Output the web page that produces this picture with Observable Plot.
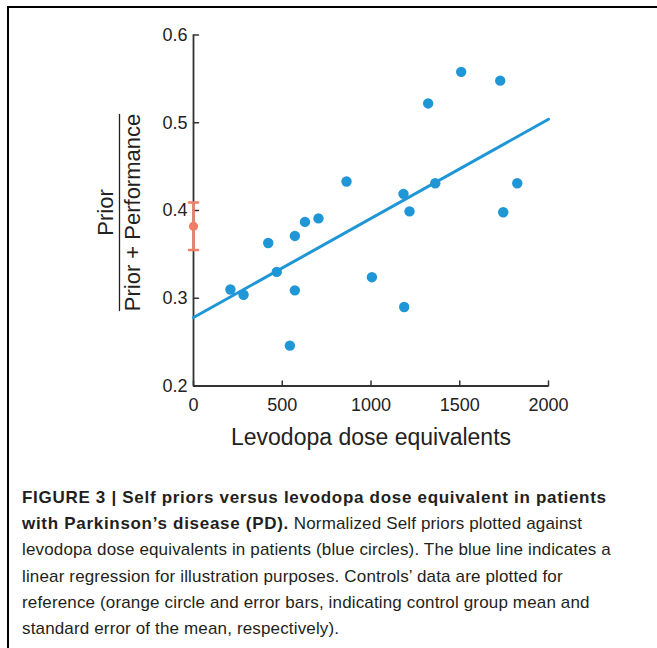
<!DOCTYPE html>
<html><head><meta charset="utf-8">
<script src="https://cdn.jsdelivr.net/npm/d3@7"></script>
<script src="https://cdn.jsdelivr.net/npm/@observablehq/plot@0.6"></script>
<style>
html,body{margin:0;padding:0;background:#fff;}
#page{position:relative;width:657px;height:648px;overflow:hidden;font-family:"Liberation Sans",Arial,sans-serif;}
#frame{position:absolute;left:7px;top:6px;width:680px;height:680px;border-top:2px solid #000;border-left:2px solid #000;}
#chart{position:absolute;left:0;top:0;}
#caption{position:absolute;left:22px;top:485px;font-size:17px;line-height:26.2px;color:#231f20;white-space:nowrap;letter-spacing:0.15px;}
#caption .l{display:block;}
#caption b{letter-spacing:0.7px;}
</style></head><body>
<div id="page"><div id="frame"></div><div id="chart"></div>
<div id="caption"><span class="l"><b>FIGURE 3 | Self priors versus levodopa dose equivalent in patients</b></span><span class="l"><b>with Parkinson’s disease (PD).</b> Normalized Self priors plotted against</span><span class="l">levodopa dose equivalents in patients (blue circles). The blue line indicates a</span><span class="l">linear regression for illustration purposes. Controls’ data are plotted for</span><span class="l">reference (orange circle and error bars, indicating control group mean and</span><span class="l">standard error of the mean, respectively).</span></div>
</div>
<script>
// Patients: levodopa dose equivalents and normalized Self priors
const dose  = [208, 282, 421, 469, 543, 571, 571, 628, 704, 862, 1005, 1187, 1183, 1217, 1322, 1362, 1508, 1728, 1745, 1824];
const prior = [0.310, 0.304, 0.363, 0.330, 0.246, 0.371, 0.309, 0.387, 0.391, 0.433, 0.324, 0.290, 0.419, 0.399, 0.522, 0.431, 0.558, 0.548, 0.398, 0.431];
// Controls (mean and SEM), plotted at dose 0
const controlX = [0];
const controlMean = [0.382];
const controlLow = [0.355];
const controlHigh = [0.409];
// Linear regression line endpoints
const fitX = [0, 2000];
const fitY = [0.278, 0.504];
// Ticks
const xTicks = [0, 500, 1000, 1500, 2000];
const yTicks = [0.2, 0.3, 0.4, 0.5, 0.6];
const xLabel = "Levodopa dose equivalents";
const yNum = "Prior";
const yDen = "Prior + Performance";

const blue = "#1f96d5";
const orange = "#f07d66";
const axisColor = "#333";
// plain straight segment shape for vectors (ticks, caps, fraction bar)
const seg = {draw(context, l) { context.moveTo(0, 0); context.lineTo(0, -l); }};

const plot = Plot.plot({
  width: 657, height: 460,
  marginLeft: 193, marginRight: 109, marginTop: 34.5, marginBottom: 74.5,
  style: {background: "none", fontFamily: "'Liberation Sans', Arial, sans-serif", overflow: "visible", color: "#222"},
  x: {domain: [0, 2000]},
  y: {domain: [0.2, 0.6]},
  marks: [
    Plot.ruleY([0.2], {x1: 0, x2: 2000, stroke: axisColor, strokeWidth: 1.8}),
    Plot.ruleX([0], {y1: 0.2, y2: 0.6, stroke: axisColor, strokeWidth: 1.8}),
    Plot.vector(xTicks, {x: d => d, y: 0.2, length: 5, rotate: 0, anchor: "start", shape: seg, stroke: axisColor, strokeWidth: 1.5}),
    Plot.vector(yTicks, {x: 0, y: d => d, length: 5, rotate: 90, anchor: "start", shape: seg, stroke: axisColor, strokeWidth: 1.5}),
    Plot.axisX({ticks: xTicks, tickSize: 0, tickPadding: 12, fontSize: 18, label: null, tickFormat: d3.format("d")}),
    Plot.axisY({ticks: yTicks, tickSize: 0, tickPadding: 6, fontSize: 18, label: null, tickFormat: d3.format(".1f")}),
    Plot.text([xLabel], {frameAnchor: "bottom", dy: 52, lineAnchor: "middle", textAnchor: "middle", fontSize: 23, text: d => d, letterSpacing: "0.65px"}),
    Plot.text([yNum], {frameAnchor: "left", dx: -88, dy: 2, rotate: -90, textAnchor: "middle", lineAnchor: "middle", fontSize: 22, text: d => d}),
    Plot.text([yDen], {frameAnchor: "left", dx: -61, dy: 2, rotate: -90, textAnchor: "middle", lineAnchor: "middle", fontSize: 22, text: d => d}),
    Plot.vector([0], {frameAnchor: "left", dx: -74, dy: 2, length: 196, rotate: 0, anchor: "middle", shape: seg, stroke: "#222", strokeWidth: 1.3}),
    Plot.line(fitX, {x: d => d, y: (d, i) => fitY[i], stroke: blue, strokeWidth: 3}),
    Plot.dot(dose, {x: d => d, y: (d, i) => prior[i], r: 5.2, fill: blue}),
    Plot.ruleX(controlX, {x: d => d, y1: (d, i) => controlLow[i], y2: (d, i) => controlHigh[i], stroke: orange, strokeWidth: 2.5}),
    Plot.vector(controlX, {x: d => d, y: (d, i) => controlLow[i], length: 9, rotate: 90, anchor: "middle", shape: seg, stroke: orange, strokeWidth: 2.5}),
    Plot.vector(controlX, {x: d => d, y: (d, i) => controlHigh[i], length: 9, rotate: 90, anchor: "middle", shape: seg, stroke: orange, strokeWidth: 2.5}),
    Plot.dot(controlX, {x: d => d, y: (d, i) => controlMean[i], r: 4.6, fill: orange})
  ]
});
document.getElementById("chart").appendChild(plot);
</script>
</body></html>
